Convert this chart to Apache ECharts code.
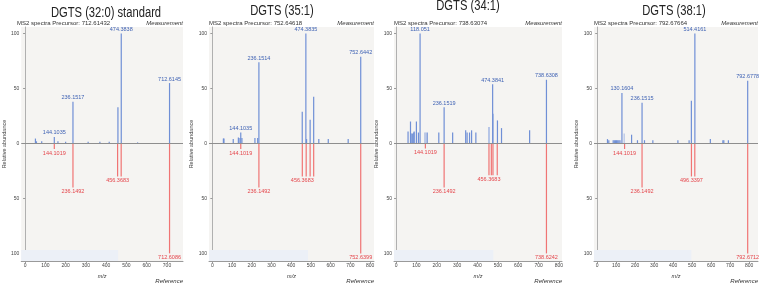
<!DOCTYPE html>
<html>
<head>
<meta charset="utf-8">
<script src="https://cdn.jsdelivr.net/npm/echarts@6/dist/echarts.min.js"></script>
<style>
  html, body { margin: 0; padding: 0; background: #fff; }
  #chart { width: 763px; height: 284px; }
</style>
</head>
<body>
<div id="chart"></div>
<script>
// ---- data ----
const titles = ['DGTS (32:0) standard', 'DGTS (35:1)', 'DGTS (34:1)', 'DGTS (38:1)'];
const precursors = ['712.61432', '752.64618', '738.63074', '792.67664'];
const xTicks1 = [0, 100, 200, 300, 400, 500, 600, 700];
const xTicks = [0, 100, 200, 300, 400, 500, 600, 700, 800];
const yTicks = [-100, -50, 0, 50, 100];

// panel 1: DGTS (32:0) standard
const meas1 = [[51, 4.5], [56, 2], [82, 2], [162, 2], [200, 1.5], [311, 1.5], [369, 1.5], [415, 1.5], [458, 33], [555, 1]];
const meas1Lab = [[144.1035, 6], [236.1517, 38], [474.3838, 100], [712.6145, 55]];
const ref1 = [[474, -30]];
const ref1Lab = [[144.1019, -5], [236.1492, -40], [456.3683, -30], [712.6086, -100]];

// panel 2: DGTS (35:1)
const meas2 = [[56, 4.5], [59, 4.5], [106, 4], [132, 5.5], [140, 5], [150, 5], [216, 5], [230, 5],
  [456, 29], [478, 4], [496, 21.5], [514, 42.5], [540, 4], [588, 4], [689, 4]];
const meas2Lab = [[144.1035, 10], [236.1514, 74], [474.3835, 100], [752.6442, 79]];
const ref2 = [[476, -30], [496, -30], [514, -30]];
const ref2Lab = [[144.1019, -5], [236.1492, -40], [456.3683, -30], [752.6399, -100]];

// panel 3: DGTS (34:1)
const meas3 = [[59, 11], [71, 20], [74, 9], [80, 9], [87, 10], [89, 11], [100, 20], [110, 10], [153, 10],
  [210, 10], [278, 10], [342, 12], [349, 10], [361, 10], [371, 12], [392, 10], [498, 21], [518, 14], [656, 12]];
const meas3Faint = [[141, 10], [146, 10], [455, 15], [458, 15], [478, 27]];
const meas3Lab = [[118.051, 100], [236.1519, 33], [474.3841, 54], [738.6308, 58]];
const ref3 = [[468, -29], [476, -29], [497, -29]];
const ref3Lab = [[144.1019, -4.5], [236.1492, -40], [456.3683, -29], [738.6242, -100]];

// panel 4: DGTS (38:1)
const meas4 = [[54, 4], [61, 3], [84, 3], [90, 3], [96, 3], [102, 3], [108, 3], [114, 3], [120, 3],
  [181, 8], [212, 3], [249, 3], [293, 3], [425, 3], [484, 3], [496, 39], [596, 4], [662, 3], [667, 3], [691, 3]];
const meas4Faint = [[142, 9]];
const meas4Lab = [[130.1604, 46], [236.1515, 37], [514.4161, 100], [792.6778, 57]];
const ref4 = [[514, -30]];
const ref4Lab = [[144.1019, -5], [236.1492, -40], [496.3397, -30], [792.6712, -100]];

// ---- layout ----
const panels = [
  {left: 17, width: 166, xMin: -19, xMax: 779, ticks: xTicks1, tx: 106, ty: 13, band: 459,
   meas: meas1, faint: [], measLab: meas1Lab, ref: ref1, refLab: ref1Lab},
  {left: 209, width: 165, xMin: -17, xMax: 820, ticks: xTicks, tx: 282, ty: 11, band: 485,
   meas: meas2, faint: [], measLab: meas2Lab, ref: ref2, refLab: ref2Lab},
  {left: 394, width: 168, xMin: -10, xMax: 815, ticks: xTicks, tx: 468, ty: 6, band: 478,
   meas: meas3, faint: meas3Faint, measLab: meas3Lab, ref: ref3, refLab: ref3Lab},
  {left: 594, width: 164, xMin: -17, xMax: 847, ticks: xTicks, tx: 674, ty: 11, band: 496,
   meas: meas4, faint: meas4Faint, measLab: meas4Lab, ref: ref4, refLab: ref4Lab}
];

const GRID_TOP = 27, GRID_H = 241;
const BLUE = '#6f8fd6', BLUE_FAINT = '#b3c2e6', BLUE_TXT = '#3f62b4';
const RED = '#f07474', RED_TXT = '#e5454b';
const FONT = 'Liberation Sans, Arial, sans-serif';

// one thin stick per peak, drawn as a filled rect centred on the m/z position
function stick(color, txtColor, withLabel) {
  return function (params, api) {
    const mz = api.value(0), v = api.value(1);
    const p0 = api.coord([mz, 0]);
    const p1 = api.coord([mz, v]);
    const kids = [{
      type: 'rect',
      shape: {x: p0[0] - 0.6, y: Math.min(p0[1], p1[1]), width: 1.2, height: Math.abs(p1[1] - p0[1])},
      style: {fill: color}
    }];
    if (withLabel) {
      kids.push({
        type: 'text',
        x: p0[0],
        y: v > 0 ? p1[1] - 1 : p1[1] + 1,
        style: {
          text: String(mz), fill: txtColor, fontSize: 5.5, fontFamily: FONT,
          align: 'center', verticalAlign: v > 0 ? 'bottom' : 'top'
        }
      });
    }
    return {type: 'group', children: kids};
  };
}

const grid = [], xAxis = [], yAxis = [], series = [], graphic = [];

panels.forEach((p, i) => {
  grid.push({
    left: p.left, width: p.width, top: GRID_TOP, height: GRID_H,
    show: true, backgroundColor: '#f5f4f2', borderWidth: 0
  });
  xAxis.push({
    type: 'value', gridIndex: i, min: p.xMin, max: p.xMax,
    axisLine: {onZero: false, lineStyle: {color: '#9a9a9a', width: 1}},
    axisTick: {customValues: p.ticks, length: 2, lineStyle: {color: '#9a9a9a'}},
    axisLabel: {customValues: p.ticks, fontSize: 5, color: '#444', margin: 2, fontFamily: FONT},
    splitLine: {show: false},
    name: 'm/z', nameLocation: 'middle', nameGap: 8,
    nameTextStyle: {fontSize: 5.5, fontStyle: 'italic', color: '#333', fontFamily: FONT}
  });
  yAxis.push({
    type: 'value', gridIndex: i, min: -107, max: 106,
    axisLine: {show: true, lineStyle: {color: '#b0b0b0', width: 1}},
    axisTick: {show: true, customValues: yTicks, length: 2, lineStyle: {color: '#9a9a9a'}},
    axisLabel: {customValues: yTicks, fontSize: 5, color: '#444', margin: 2, fontFamily: FONT,
      formatter: v => String(Math.abs(v))},
    splitLine: {show: false},
    name: 'Relative abundance', nameLocation: 'middle', nameGap: 11, nameRotate: 90,
    nameTextStyle: {fontSize: 5.5, color: '#444', fontFamily: FONT}
  });

  const common = {type: 'custom', xAxisIndex: i, yAxisIndex: i, silent: true, encode: {x: 0, y: 1}};
  series.push({
    ...common, data: p.meas, renderItem: stick(BLUE, BLUE_TXT, false), z: 3,
    markLine: {
      silent: true, symbol: 'none', label: {show: false},
      lineStyle: {color: '#8e8e8e', width: 1, type: 'solid'},
      data: [{yAxis: 0}]
    },
    markArea: {
      silent: true, itemStyle: {color: '#ecf0f7'},
      data: [[{xAxis: p.xMin, yAxis: -107}, {xAxis: p.band, yAxis: -97}]]
    }
  });
  series.push({...common, data: p.faint, renderItem: stick(BLUE_FAINT, BLUE_TXT, false), z: 2});
  series.push({...common, data: p.measLab, renderItem: stick(BLUE, BLUE_TXT, true), z: 4});
  series.push({...common, data: p.ref, renderItem: stick(RED, RED_TXT, false), z: 3});
  series.push({...common, data: p.refLab, renderItem: stick(RED, RED_TXT, true), z: 4});

  // titles are set in a condensed face in the reference; squeeze the glyphs horizontally
  graphic.push({
    type: 'text', x: p.tx, y: p.ty, scaleX: 0.8,
    style: {text: titles[i], fontSize: 14, fill: '#222', align: 'center', verticalAlign: 'middle',
      fontFamily: FONT}
  });
  graphic.push({
    type: 'text', x: p.left, y: 23,
    style: {text: 'MS2 spectra Precursor: ' + precursors[i], fontSize: 6, fill: '#333',
      align: 'left', verticalAlign: 'middle', fontFamily: FONT}
  });
  graphic.push({
    type: 'text', x: p.left + p.width, y: 23,
    style: {text: 'Measurement', fontSize: 6, fill: '#333', fontStyle: 'italic',
      align: 'right', verticalAlign: 'middle', fontFamily: FONT}
  });
  graphic.push({
    type: 'text', x: p.left + p.width, y: 281,
    style: {text: 'Reference', fontSize: 6, fill: '#333', fontStyle: 'italic',
      align: 'right', verticalAlign: 'middle', fontFamily: FONT}
  });
});

const chart = echarts.init(document.getElementById('chart'), null, {renderer: 'canvas'});
chart.setOption({
  animation: false,
  backgroundColor: '#fff',
  grid, xAxis, yAxis, series, graphic
});
</script>
</body>
</html>
